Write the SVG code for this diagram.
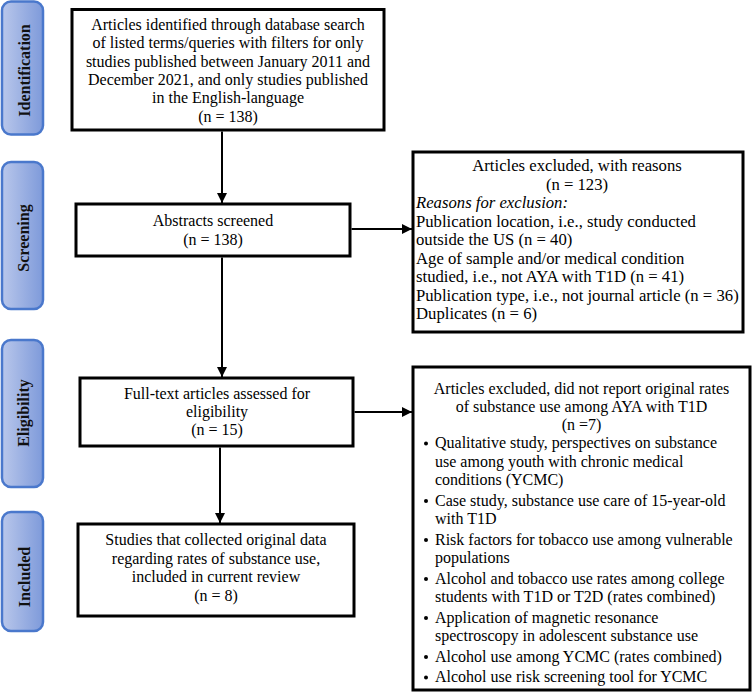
<svg xmlns="http://www.w3.org/2000/svg" width="752" height="693" viewBox="0 0 752 693">
<defs>
<linearGradient id="side" x1="0" y1="0" x2="1" y2="0">
<stop offset="0" stop-color="#B9C7EB"/>
<stop offset="1" stop-color="#7E9ADA"/>
</linearGradient>
<marker id="ah" viewBox="0 0 10 10" refX="10" refY="5" markerWidth="5" markerHeight="5" orient="auto" markerUnits="strokeWidth">
<path d="M0,0 L10,5 L0,10 z" fill="#000"/>
</marker>
</defs>
<style>
.side{fill:url(#side);stroke:#4A78CC;stroke-width:2.5}
.sl{font-family:"Liberation Serif","Times New Roman",serif;font-size:16px;font-weight:bold;fill:#111;text-anchor:middle}
.box{fill:#fff;stroke:#000;stroke-width:3}
.t{font-family:"Liberation Serif","Times New Roman",serif;font-size:16px;fill:#000}
.c{text-anchor:middle}
.t17{font-size:16.7px}
.conn{stroke:#000;stroke-width:2;fill:none;marker-end:url(#ah)}
</style>
<rect width="752" height="693" fill="#fff"/>

<g id="stage-identification">
<rect class="side" x="2" y="1.5" width="41" height="133" rx="9"/>
<text class="sl" transform="translate(29.5,70.5) rotate(-90)">Identification</text>
</g>
<g id="stage-screening">
<rect class="side" x="2" y="162" width="41" height="147" rx="9"/>
<text class="sl" transform="translate(29,238) rotate(-90)">Screening</text>
</g>
<g id="stage-eligibility">
<rect class="side" x="2" y="340" width="41" height="147" rx="9"/>
<text class="sl" transform="translate(29,413) rotate(-90)">Eligibility</text>
</g>
<g id="stage-included">
<rect class="side" x="2" y="512" width="41" height="119" rx="9"/>
<text class="sl" transform="translate(29.5,577) rotate(-90)">Included</text>
</g>

<g id="identified">
<rect class="box" x="72" y="9.5" width="312" height="120.5"/>
<text class="t c" x="228" y="30">Articles identified through database search</text>
<text class="t c" x="228" y="48.3">of listed terms/queries with filters for only</text>
<text class="t c" x="228" y="66.6">studies published between January 2011 and</text>
<text class="t c" x="228" y="84.9">December 2021, and only studies published</text>
<text class="t c" x="228" y="103.2">in the English-language</text>
<text class="t c" x="228" y="121.5">(n = 138)</text>
</g>

<g id="screened">
<rect class="box" x="76" y="204" width="274" height="52"/>
<text class="t c" x="213" y="226">Abstracts screened</text>
<text class="t c" x="213" y="245">(n = 138)</text>
</g>

<g id="excluded-screening">
<rect class="box" x="413" y="152" width="330" height="180"/>
<text class="t t17 c" x="577" y="171">Articles excluded, with reasons</text>
<text class="t t17 c" x="577" y="189.5">(n = 123)</text>
<text class="t t17" x="416" y="208" font-style="italic">Reasons for exclusion:</text>
<text class="t t17" x="416" y="226.5">Publication location, i.e., study conducted</text>
<text class="t t17" x="416" y="245">outside the US (n = 40)</text>
<text class="t t17" x="416" y="263.5">Age of sample and/or medical condition</text>
<text class="t t17" x="416" y="282">studied, i.e., not AYA with T1D (n = 41)</text>
<text class="t t17" x="416" y="300.5">Publication type, i.e., not journal article (n = 36)</text>
<text class="t t17" x="416" y="319">Duplicates (n = 6)</text>
</g>

<g id="fulltext">
<rect class="box" x="80" y="378" width="273" height="68"/>
<text class="t c" x="217" y="399">Full-text articles assessed for</text>
<text class="t c" x="217" y="417">eligibility</text>
<text class="t c" x="217" y="435">(n = 15)</text>
</g>

<g id="excluded-eligibility">
<rect class="box" x="413" y="367" width="337" height="323"/>
<text class="t c" x="581.5" y="393.5">Articles excluded, did not report original rates</text>
<text class="t c" x="581.5" y="412">of substance use among AYA with T1D</text>
<text class="t c" x="581.5" y="430">(n =7)</text>
<g fill="#000">
<circle cx="426" cy="443.5" r="2"/>
<circle cx="426" cy="501" r="2"/>
<circle cx="426" cy="540" r="2"/>
<circle cx="426" cy="579" r="2"/>
<circle cx="426" cy="618" r="2"/>
<circle cx="426" cy="657" r="2"/>
<circle cx="426" cy="677.5" r="2"/>
</g>
<text class="t" x="435" y="448">Qualitative study, perspectives on substance</text>
<text class="t" x="435" y="466.5">use among youth with chronic medical</text>
<text class="t" x="435" y="485">conditions (YCMC)</text>
<text class="t" x="435" y="505.5">Case study, substance use care of 15-year-old</text>
<text class="t" x="435" y="524">with T1D</text>
<text class="t" x="435" y="544.5">Risk factors for tobacco use among vulnerable</text>
<text class="t" x="435" y="563">populations</text>
<text class="t" x="435" y="583.5">Alcohol and tobacco use rates among college</text>
<text class="t" x="435" y="602">students with T1D or T2D (rates combined)</text>
<text class="t" x="435" y="622.5">Application of magnetic resonance</text>
<text class="t" x="435" y="641">spectroscopy in adolescent substance use</text>
<text class="t" x="435" y="661.5">Alcohol use among YCMC (rates combined)</text>
<text class="t" x="435" y="682">Alcohol use risk screening tool for YCMC</text>
</g>

<g id="included">
<rect class="box" x="78" y="524" width="276" height="92"/>
<text class="t c" x="216" y="545">Studies that collected original data</text>
<text class="t c" x="216" y="563.5">regarding rates of substance use,</text>
<text class="t c" x="216" y="582">included in current review</text>
<text class="t c" x="216" y="600.5">(n = 8)</text>
</g>

<g id="connectors">
<line class="conn" x1="222" y1="131.5" x2="222" y2="203"/>
<line class="conn" x1="351.5" y1="229" x2="412" y2="229"/>
<line class="conn" x1="222" y1="257.5" x2="222" y2="377"/>
<line class="conn" x1="354.5" y1="412" x2="412" y2="412"/>
<line class="conn" x1="220" y1="447.5" x2="220" y2="523"/>
</g>
</svg>
